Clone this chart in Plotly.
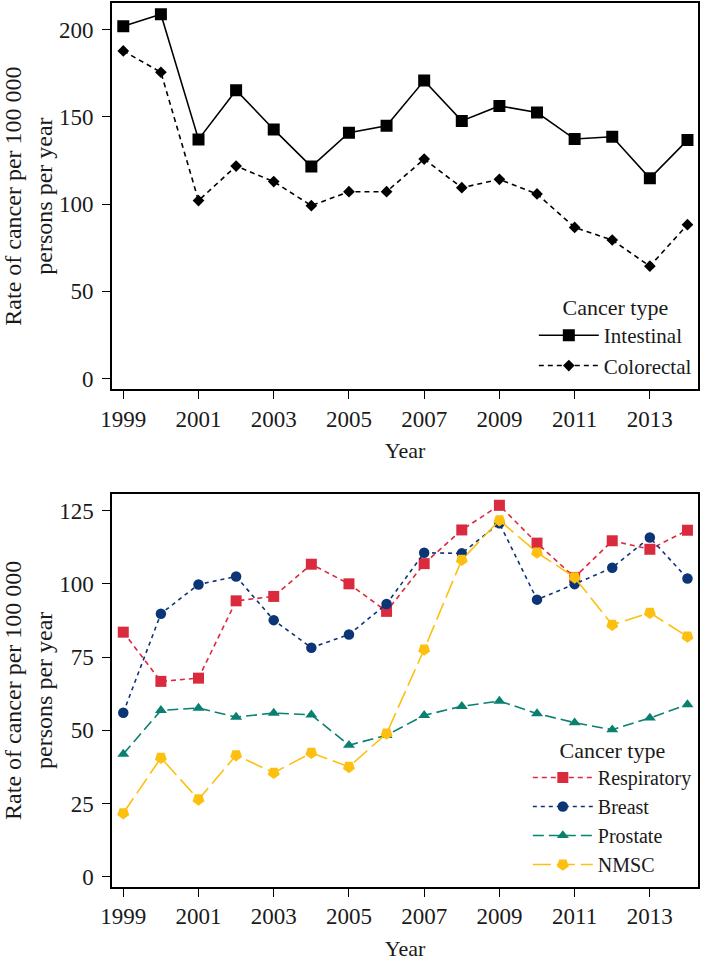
import plotly.graph_objects as go

years = list(range(1999, 2015))

intestinal = [202, 208.8, 137.1, 165.3, 142.8, 121.5, 140.9, 144.9, 170.8, 147.7, 156.3, 152.5, 137.3, 138.6, 114.8, 136.7]
colorectal = [187.8, 175.6, 102.0, 121.8, 112.9, 99.1, 107.1, 107.1, 125.8, 109.4, 114.2, 105.8, 86.6, 79.4, 64.4, 88.2]

respiratory = [83.5, 66.7, 67.8, 94.2, 95.7, 106.7, 100.0, 90.6, 106.9, 118.4, 126.8, 113.9, 102.2, 114.7, 111.8, 118.3]
breast = [56.0, 89.8, 99.8, 102.5, 87.6, 78.2, 82.7, 93.1, 110.6, 110.4, 120.7, 94.6, 99.9, 105.5, 115.8, 101.8]
prostate = [41.9, 56.8, 57.6, 54.5, 55.9, 55.3, 44.9, 48.3, 55.1, 58.2, 60.0, 55.7, 52.6, 50.2, 54.2, 58.8]
nmsc = [21.7, 40.6, 26.4, 41.5, 35.5, 42.3, 37.5, 48.9, 77.6, 108.2, 121.7, 110.7, 102.2, 86.0, 90.1, 82.0]

xticks = [1999, 2001, 2003, 2005, 2007, 2009, 2011, 2013]
top_yticks = [0, 50, 100, 150, 200]
bot_yticks = [0, 25, 50, 75, 100, 125]

FONT = "Liberation Serif"
TXT = "#1a1a1a"
RED = "#DA2A3E"
NAVY = "#0B3577"
TEAL = "#0A8070"
YELLOW = "#FDC010"

fig = go.Figure()

fig.add_trace(go.Scatter(x=years, y=intestinal, name="Intestinal", mode="lines+markers",
                         line=dict(color="black", width=1.6, dash="solid"),
                         marker=dict(symbol="square", size=12, color="black"),
                         xaxis="x", yaxis="y", legend="legend"))
fig.add_trace(go.Scatter(x=years, y=colorectal, name="Colorectal", mode="lines+markers",
                         line=dict(color="black", width=1.6, dash="5px,4px"),
                         marker=dict(symbol="diamond", size=9, color="black"),
                         xaxis="x", yaxis="y", legend="legend"))

fig.add_trace(go.Scatter(x=years, y=respiratory, name="Respiratory", mode="lines+markers",
                         line=dict(color=RED, width=1.6, dash="5px,4px"),
                         marker=dict(symbol="square", size=11, color=RED),
                         xaxis="x2", yaxis="y2", legend="legend2"))
fig.add_trace(go.Scatter(x=years, y=breast, name="Breast", mode="lines+markers",
                         line=dict(color=NAVY, width=1.6, dash="4px,4px"),
                         marker=dict(symbol="circle", size=10.5, color=NAVY),
                         xaxis="x2", yaxis="y2", legend="legend2"))
fig.add_trace(go.Scatter(x=years, y=prostate, name="Prostate", mode="lines+markers",
                         line=dict(color=TEAL, width=1.6, dash="11px,5px"),
                         marker=dict(symbol="triangle-up", size=10.5, color=TEAL),
                         xaxis="x2", yaxis="y2", legend="legend2"))
fig.add_trace(go.Scatter(x=years, y=nmsc, name="NMSC", mode="lines+markers",
                         line=dict(color=YELLOW, width=1.6, dash="18px,6px"),
                         marker=dict(symbol="pentagon", angle=180, size=12.5, color=YELLOW),
                         xaxis="x2", yaxis="y2", legend="legend2"))

TICKSIZE = 23
axis_common = dict(showline=True, linecolor="black", mirror=True, ticks="outside",
                   ticklen=8, tickwidth=1.3, tickcolor="black", showgrid=False, zeroline=False,
                   tickfont=dict(family=FONT, size=TICKSIZE, color=TXT))

top_dom = [0.5632, 1.0]
bot_dom = [0.0, 0.445]

ytitle = "Rate of cancer per 100 000<br>persons per year"
tfont = dict(family=FONT, size=22, color=TXT)
ytfont = dict(family=FONT, size=24, color=TXT)

fig.update_layout(
    width=701, height=961,
    margin=dict(l=112, r=1, t=1, b=74),
    paper_bgcolor="white", plot_bgcolor="white",
    font=dict(family=FONT, size=22, color=TXT),
    xaxis=dict(domain=[0, 1], anchor="y", range=[1998.7, 2014.28], tickvals=xticks,
               title=dict(text="Year", font=tfont, standoff=12),
               linewidth=2, **axis_common),
    yaxis=dict(domain=top_dom, anchor="x", range=[-6.1, 215.3], tickvals=top_yticks,
               ticklabelstandoff=4,
               title=dict(text=ytitle, font=ytfont, standoff=8),
               linewidth=2, **axis_common),
    xaxis2=dict(domain=[0, 1], anchor="y2", range=[1998.7, 2014.28], tickvals=xticks,
                title=dict(text="Year", font=tfont, standoff=14),
                linewidth=1.5, **axis_common),
    yaxis2=dict(domain=bot_dom, anchor="x2", range=[-3.5, 130.8], tickvals=bot_yticks,
                ticklabelstandoff=4,
                title=dict(text=ytitle, font=ytfont, standoff=8),
                linewidth=1.5, **axis_common),
    legend=dict(x=0.998, xanchor="right", y=top_dom[0] + 0.003, yanchor="bottom",
                bgcolor="rgba(0,0,0,0)", itemwidth=60, tracegroupgap=0,
                title=dict(text="Cancer type", side="top center", font=tfont),
                font=dict(family=FONT, size=21, color=TXT)),
    legend2=dict(x=0.998, xanchor="right", y=0.003, yanchor="bottom",
                 bgcolor="rgba(0,0,0,0)", itemwidth=60, tracegroupgap=0,
                 title=dict(text="Cancer type", side="top center", font=tfont),
                 font=dict(family=FONT, size=20, color=TXT)),
)

fig.write_html("out.html", config={"displayModeBar": False},
               post_script="document.body.style.margin='0';document.body.style.overflow='hidden';")
